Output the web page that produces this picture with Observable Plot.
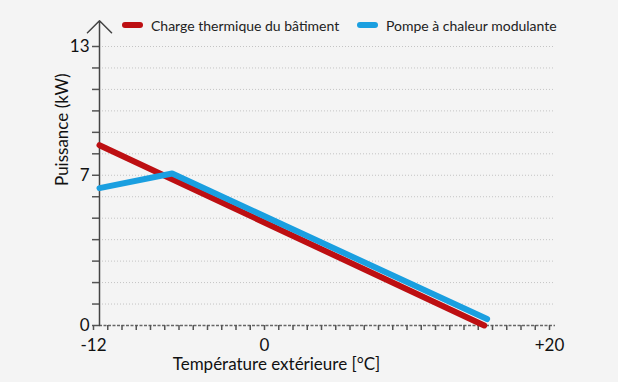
<!DOCTYPE html>
<html>
<head>
<meta charset="utf-8">
<script src="https://cdn.jsdelivr.net/npm/d3@7"></script>
<script src="https://cdn.jsdelivr.net/npm/@observablehq/plot@0.6"></script>
<style>
  html, body { margin: 0; padding: 0; background: #f4f4f4; }
  #wrap { position: relative; width: 618px; height: 382px; background: #f4f4f4; font-family: Lato, "Noto Sans", sans-serif; }
  #legend { position: absolute; top: 16px; left: 0; width: 618px; height: 20px; font-size: 14px; color: #222; }
  .item { position: absolute; top: 0; display: flex; align-items: center; height: 18px; }
  .sw { display: inline-block; width: 21px; height: 6px; border-radius: 3px; margin-right: 8px; }
  svg { position: absolute; top: 0; left: 0; }
</style>
</head>
<body>
<div id="wrap">
  <div id="legend"></div>
</div>
<script>
// Data
const seriesNames = ["Charge thermique du bâtiment", "Pompe à chaleur modulante"];
const seriesColors = ["#bd0f12", "#1a9fe0"];
const chargeTemp = [-12, 15];
const chargeKW = [8.4, 0];
const pumpTemp = [-12, -6.9, 15.2];
const pumpKW = [6.4, 7.08, 0.3];
const xTickLabels = {"-12": "-12", "0": "0", "20": "+20"};
const yTickLabels = [0, 7, 13];
const xTitle = "Température extérieure [°C]";
const yTitle = "Puissance (kW)";

const charge = chargeTemp.map((t, i) => ({t, p: chargeKW[i]}));
const pump = pumpTemp.map((t, i) => ({t, p: pumpKW[i]}));

const chart = Plot.plot({
  width: 618,
  height: 382,
  marginLeft: 99,
  marginRight: 63,
  marginTop: 46,
  marginBottom: 57,
  style: {background: "transparent", fontFamily: "Lato, 'Noto Sans', sans-serif", color: "#222"},
  x: {domain: [-12, 20]},
  y: {domain: [0, 13]},
  marks: [
    Plot.ruleY(d3.range(1, 14), {x1: -12, x2: 20, stroke: "#c4c4c4", strokeDasharray: "1,2", strokeWidth: 1}),
    Plot.ruleY([0], {x1: -12, x2: 20, stroke: "#666", strokeDasharray: "3,1.5", strokeWidth: 1.5}),
    Plot.axisX({ticks: d3.range(-12, 21), tickSize: 5, tickPadding: 8, stroke: "#555", strokeWidth: 1.5,
      tickFormat: d => xTickLabels[String(d)] ?? "", fontSize: 17, label: null, dx: -6, fill: "#111"}),
    Plot.axisY({ticks: d3.range(0, 14), tickSize: 7, tickPadding: 3, stroke: "#555", strokeWidth: 1.5,
      tickFormat: d => yTickLabels.includes(d) ? String(d) : "", fontSize: 17, label: null, fill: "#111"}),
    Plot.arrow([0], {x1: -12, y1: 0, x2: -12, y2: 14.2, stroke: "#444", strokeWidth: 1.5, headAngle: 90, headLength: 17}),
    Plot.line(charge, {x: "t", y: "p", stroke: seriesColors[0], strokeWidth: 6, strokeLinecap: "round", strokeLinejoin: "round"}),
    Plot.line(pump, {x: "t", y: "p", stroke: seriesColors[1], strokeWidth: 6, strokeLinecap: "round", strokeLinejoin: "round"}),
    Plot.text([xTitle], {frameAnchor: "bottom", lineAnchor: "middle", dx: -51, dy: 39, fontSize: 17, fill: "#111"}),
    Plot.text([yTitle], {frameAnchor: "left", dx: -37, rotate: -90, fontSize: 17, fill: "#111"})
  ]
});
document.getElementById("wrap").appendChild(chart);

const legend = document.getElementById("legend");
const lefts = [122, 357];
seriesNames.forEach((name, i) => {
  const item = document.createElement("div");
  item.className = "item";
  item.style.left = lefts[i] + "px";
  item.innerHTML = `<span class="sw" style="background:${seriesColors[i]}"></span><span>${name}</span>`;
  legend.appendChild(item);
});
</script>
</body>
</html>
